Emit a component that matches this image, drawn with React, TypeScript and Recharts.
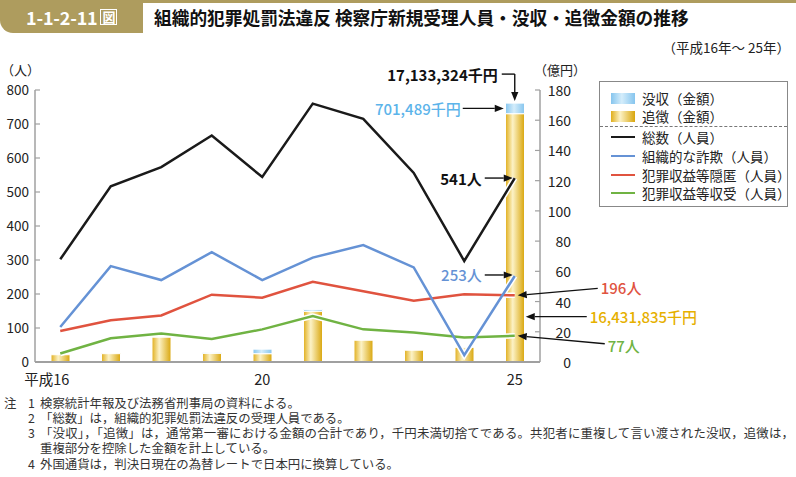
import React from 'react';
import {
  ComposedChart,
  Bar,
  Line,
  XAxis,
  YAxis,
  ReferenceDot,
} from 'recharts';

const years = ['16', '17', '18', '19', '20', '21', '22', '23', '24', '25'];
const total = [302, 517, 573, 666, 544, 760, 715, 556, 297, 541];
const fraud = [103, 282, 241, 323, 241, 307, 344, 278, 20, 253];
const conceal = [91, 123, 137, 198, 189, 236, 208, 180, 199, 196];
const receive = [25, 70, 84, 68, 96, 135, 96, 87, 72, 77];
// 億円
const tsuicho = [4.8, 5.5, 16.4, 5.8, 5.5, 33.6, 14.4, 7.8, 9.7, 164.31835];
const botsu = [0, 0, 0, 0.6, 3.0, 1.2, 0, 0, 0, 7.01489];

const leftTicks = [0, 100, 200, 300, 400, 500, 600, 700, 800];
const rightTicks = [0, 20, 40, 60, 80, 100, 120, 140, 160, 180];
const shownYears: Record<string, string> = { '16': '平成16', '20': '20', '25': '25' };

const data = years.map((year, i) => ({
  year,
  total: total[i],
  fraud: fraud[i],
  conceal: conceal[i],
  receive: receive[i],
  tsuicho: tsuicho[i],
  botsu: botsu[i],
}));

const FONT = "'Noto Sans CJK JP', 'Noto Sans', sans-serif";
const C = {
  total: '#1a1a1a',
  fraud: '#6592d5',
  conceal: '#e0533f',
  receive: '#70b343',
  botsuText: '#5cb4ea',
  goldText: '#e6b000',
  axis: '#a0a0a0',
  tab: '#ae9c5e',
};

const last = years.length - 1;

function Arrow({ x1, y1, x2, y2 }: { x1: number; y1: number; x2: number; y2: number }) {
  const a = Math.atan2(y2 - y1, x2 - x1);
  const L = 9;
  const w = 3.6;
  const bx = x2 - L * Math.cos(a);
  const by = y2 - L * Math.sin(a);
  const px = -Math.sin(a) * w;
  const py = Math.cos(a) * w;
  return (
    <g>
      <line x1={x1} y1={y1} x2={bx} y2={by} stroke="#111" strokeWidth={1.4} />
      <polygon points={`${x2},${y2} ${bx + px},${by + py} ${bx - px},${by - py}`} fill="#111" />
    </g>
  );
}

const LeftTick = (props: any) => {
  const { x, y, payload } = props;
  return (
    <g>
      <line x1={x} y1={y} x2={x + 5} y2={y} stroke={C.axis} strokeWidth={1.2} />
      <text x={x - 6} y={y - 1} textAnchor="end" dominantBaseline="central" fontSize={13.5} fill="#222" fontFamily={FONT}>
        {payload.value}
      </text>
    </g>
  );
};

const RightTick = (props: any) => {
  const { x, y, payload } = props;
  return (
    <g>
      <line x1={x - 5} y1={y} x2={x} y2={y} stroke={C.axis} strokeWidth={1.2} />
      <text x={x + 31} y={y} textAnchor="end" dominantBaseline="central" fontSize={14} fill="#222" fontFamily={FONT}>
        {payload.value}
      </text>
    </g>
  );
};

const XTick = (props: any) => {
  const { x, y, payload } = props;
  const label = shownYears[payload.value];
  if (!label) return null;
  const first = payload.value === years[0];
  return (
    <text
      x={first ? x + 9 : x}
      y={y + 16}
      textAnchor={first ? 'end' : 'middle'}
      dominantBaseline="central"
      fontSize={14.5}
      fill="#222"
      fontFamily={FONT}
    >
      {label}
    </text>
  );
};

const label = (x: number, y: number, text: string, color: string, anchor: 'start' | 'end', bold = false) => (
  <text
    x={x}
    y={y}
    textAnchor={anchor}
    dominantBaseline="central"
    fontSize={15}
    fontWeight={bold ? 700 : 500}
    fill={color}
    fontFamily={FONT}
  >
    {text}
  </text>
);

const notes: { n: string; x: number; text: string; y: number; ls: number }[] = [
  { n: '1', x: 40, y: 403, ls: 0, text: '検察統計年報及び法務省刑事局の資料による。' },
  { n: '2', x: 40, y: 418, ls: 0, text: '「総数」は，組織的犯罪処罰法違反の受理人員である。' },
  {
    n: '3',
    x: 40,
    y: 433,
    ls: 0.2,
    text: '「没収」，「追徴」は，通常第一審における金額の合計であり，千円未満切捨てである。共犯者に重複して言い渡された没収，追徴は，',
  },
  { n: '', x: 40, y: 448, ls: 0, text: '重複部分を控除した金額を計上している。' },
  { n: '4', x: 40, y: 464, ls: 0, text: '外国通貨は，判決日現在の為替レートで日本円に換算している。' },
];

const noteStyle: React.CSSProperties = {
  position: 'absolute',
  fontSize: 12.4,
  color: '#333',
  lineHeight: '14px',
  whiteSpace: 'nowrap',
};

export default function App() {
  return (
    <div
      style={{
        position: 'absolute',
        left: 0,
        top: 0,
        width: 796,
        height: 477,
        background: '#fff',
        fontFamily: FONT,
        overflow: 'hidden',
      }}
    >
      {/* header */}
      <div style={{ position: 'absolute', left: 0, top: 0, width: 796, height: 3, background: C.tab }} />
      <div
        style={{
          position: 'absolute',
          left: 0,
          top: 0,
          width: 143,
          height: 33,
          background: C.tab,
          borderBottomLeftRadius: 13,
          color: '#fff',
          fontWeight: 700,
          fontSize: 18,
          display: 'flex',
          alignItems: 'center',
          paddingLeft: 26,
          boxSizing: 'border-box',
          letterSpacing: -0.2,
        }}
      >
        1-1-2-11
        <span
          style={{
            marginLeft: 3,
            fontSize: 13,
            lineHeight: '14px',
            border: '1.5px solid #fff',
            padding: '0 1px',
          }}
        >
          図
        </span>
      </div>
      <div
        style={{
          position: 'absolute',
          left: 154,
          top: 5,
          fontSize: 17.7,
          fontWeight: 700,
          color: '#111',
          whiteSpace: 'nowrap',
          lineHeight: '24px',
        }}
      >
        組織的犯罪処罰法違反 検察庁新規受理人員・没収・追徴金額の推移
      </div>
      <div
        style={{
          position: 'absolute',
          right: 6,
          top: 37,
          fontSize: 13.5,
          color: '#222',
          whiteSpace: 'nowrap',
        }}
      >
        （平成16年～ 25年）
      </div>
      <div style={{ position: 'absolute', left: 1, top: 62, fontSize: 13, lineHeight: '16px', color: '#222' }}>（人）</div>
      <div style={{ position: 'absolute', left: 534, top: 62, fontSize: 13, lineHeight: '16px', color: '#222' }}>（億円）</div>

      <div style={{ position: 'absolute', left: 0, top: 0 }}>
        <ComposedChart
          width={796}
          height={400}
          data={data}
          margin={{ top: 90, right: 216, bottom: 0, left: 0 }}
        >
          <defs>
            <linearGradient id="gold" x1="0" y1="0" x2="1" y2="0">
              <stop offset="0%" stopColor="#e0ae1c" />
              <stop offset="38%" stopColor="#fcf2c6" />
              <stop offset="100%" stopColor="#d9a60c" />
            </linearGradient>
            <linearGradient id="blue" x1="0" y1="0" x2="1" y2="0">
              <stop offset="0%" stopColor="#86c5ee" />
              <stop offset="45%" stopColor="#d4edfb" />
              <stop offset="100%" stopColor="#86c5ee" />
            </linearGradient>
          </defs>
          <XAxis
            dataKey="year"
            height={38}
            interval={0}
            axisLine={{ stroke: C.axis, strokeWidth: 2 }}
            tickLine={false}
            tickSize={0}
            tickMargin={0}
            tick={XTick}
          />
          <YAxis
            yAxisId="left"
            width={35}
            domain={[0, 800]}
            ticks={leftTicks}
            interval={0}
            axisLine={{ stroke: C.axis, strokeWidth: 1.5 }}
            tickLine={false}
            tickSize={0}
            tickMargin={0}
            tick={LeftTick}
          />
          <YAxis
            yAxisId="right"
            orientation="right"
            width={40}
            domain={[0, 180]}
            ticks={rightTicks}
            interval={0}
            axisLine={{ stroke: C.axis, strokeWidth: 1.5 }}
            tickLine={false}
            tickSize={0}
            tickMargin={0}
            tick={RightTick}
          />
          <Bar
            yAxisId="right"
            dataKey="tsuicho"
            stackId="a"
            fill="url(#gold)"
            stroke="#fff"
            strokeWidth={1}
            barSize={19}
            isAnimationActive={false}
          />
          <Bar
            yAxisId="right"
            dataKey="botsu"
            stackId="a"
            fill="url(#blue)"
            stroke="#fff"
            strokeWidth={1}
            barSize={19}
            isAnimationActive={false}
          />
          {['total', 'fraud', 'conceal', 'receive'].map((k) => (
            <Line
              key={`halo-${k}`}
              yAxisId="left"
              dataKey={k}
              type="linear"
              stroke="#fff"
              strokeWidth={5.5}
              dot={false}
              activeDot={false}
              isAnimationActive={false}
            />
          ))}
          <Line yAxisId="left" dataKey="receive" type="linear" stroke={C.receive} strokeWidth={2.5} dot={false} isAnimationActive={false} />
          <Line yAxisId="left" dataKey="conceal" type="linear" stroke={C.conceal} strokeWidth={2.5} dot={false} isAnimationActive={false} />
          <Line yAxisId="left" dataKey="fraud" type="linear" stroke={C.fraud} strokeWidth={2.5} dot={false} isAnimationActive={false} />
          <Line yAxisId="left" dataKey="total" type="linear" stroke={C.total} strokeWidth={2.5} dot={false} isAnimationActive={false} />

          {/* callouts */}
          <ReferenceDot
            yAxisId="left"
            x={years[last]}
            y={total[last]}
            ifOverflow="visible"
            shape={(p: any) => (
              <g>
                <Arrow x1={p.cx - 30} y1={p.cy} x2={p.cx - 2} y2={p.cy} />
                {label(p.cx - 33, p.cy, `${total[last]}人`, '#111', 'end', true)}
              </g>
            )}
          />
          <ReferenceDot
            yAxisId="left"
            x={years[last]}
            y={fraud[last]}
            ifOverflow="visible"
            shape={(p: any) => (
              <g>
                <Arrow x1={p.cx - 30} y1={p.cy - 1} x2={p.cx - 2} y2={p.cy - 1} />
                {label(p.cx - 33, p.cy - 1, `${fraud[last]}人`, C.fraud, 'end')}
              </g>
            )}
          />
          <ReferenceDot
            yAxisId="left"
            x={years[last]}
            y={conceal[last]}
            ifOverflow="visible"
            shape={(p: any) => (
              <g>
                <Arrow x1={p.cx + 83} y1={p.cy - 7} x2={p.cx + 3} y2={p.cy} />
                {label(p.cx + 86, p.cy - 8, `${conceal[last]}人`, C.conceal, 'start')}
              </g>
            )}
          />
          <ReferenceDot
            yAxisId="left"
            x={years[last]}
            y={receive[last]}
            ifOverflow="visible"
            shape={(p: any) => (
              <g>
                <Arrow x1={p.cx + 90} y1={p.cy + 8} x2={p.cx + 3} y2={p.cy} />
                {label(p.cx + 93, p.cy + 10, `${receive[last]}人`, C.receive, 'start')}
              </g>
            )}
          />
          <ReferenceDot
            yAxisId="right"
            x={years[last]}
            y={30}
            ifOverflow="visible"
            shape={(p: any) => (
              <g>
                <Arrow x1={p.cx + 72} y1={p.cy} x2={p.cx + 11} y2={p.cy} />
                {label(p.cx + 75, p.cy, '16,431,835千円', C.goldText, 'start')}
              </g>
            )}
          />
          <ReferenceDot
            yAxisId="right"
            x={years[last]}
            y={tsuicho[last] + botsu[last] / 2}
            ifOverflow="visible"
            shape={(p: any) => (
              <g>
                <Arrow x1={p.cx - 52} y1={p.cy} x2={p.cx - 11} y2={p.cy} />
                {label(p.cx - 54, p.cy, '701,489千円', C.botsuText, 'end')}
              </g>
            )}
          />
          <ReferenceDot
            yAxisId="right"
            x={years[last]}
            y={tsuicho[last] + botsu[last]}
            ifOverflow="visible"
            shape={(p: any) => (
              <g>
                <line x1={p.cx - 13} y1={p.cy - 29} x2={p.cx} y2={p.cy - 29} stroke="#111" strokeWidth={1.4} />
                <Arrow x1={p.cx} y1={p.cy - 29} x2={p.cx} y2={p.cy - 2} />
                {label(p.cx - 17, p.cy - 29, '17,133,324千円', '#111', 'end', true)}
              </g>
            )}
          />
        </ComposedChart>
      </div>

      {/* legend */}
      <div
        style={{
          position: 'absolute',
          left: 599,
          top: 81,
          width: 189,
          height: 126,
          border: '1px solid #888',
          boxSizing: 'border-box',
          fontSize: 13.5,
          color: '#222',
        }}
      >
        {[
          { t: '没収（金額）', y: 16, c: 'linear-gradient(90deg,#86c5ee,#d4edfb 45%,#86c5ee)' },
          { t: '追徴（金額）', y: 34, c: 'linear-gradient(90deg,#e0ae1c,#fcf2c6 38%,#d9a60c)' },
        ].map((r) => (
          <div key={r.t} style={{ position: 'absolute', left: 0, top: r.y - 9, height: 18, display: 'flex', alignItems: 'center' }}>
            <div style={{ marginLeft: 11, width: 24, height: 11, background: r.c }} />
            <span style={{ marginLeft: 7, whiteSpace: 'nowrap' }}>{r.t}</span>
          </div>
        ))}
        <div style={{ position: 'absolute', left: 0, right: 0, top: 44, borderTop: '1px dashed #777' }} />
        {[
          { t: '総数（人員）', y: 55, c: C.total },
          { t: '組織的な詐欺（人員）', y: 74, c: C.fraud },
          { t: '犯罪収益等隠匿（人員）', y: 93, c: C.conceal },
          { t: '犯罪収益等収受（人員）', y: 111, c: C.receive },
        ].map((r) => (
          <div key={r.t} style={{ position: 'absolute', left: 0, top: r.y - 9, height: 18, display: 'flex', alignItems: 'center' }}>
            <div style={{ marginLeft: 11, width: 24, height: 2.5, background: r.c }} />
            <span style={{ marginLeft: 7, whiteSpace: 'nowrap' }}>{r.t}</span>
          </div>
        ))}
      </div>

      {/* notes */}
      <div style={{ ...noteStyle, left: 4, top: 403 - 7 }}>注</div>
      {notes.map((n, i) => (
        <React.Fragment key={i}>
          {n.n && <div style={{ ...noteStyle, left: 28, top: n.y - 7 }}>{n.n}</div>}
          <div style={{ ...noteStyle, left: n.x, top: n.y - 7, letterSpacing: n.ls }}>{n.text}</div>
        </React.Fragment>
      ))}
    </div>
  );
}
